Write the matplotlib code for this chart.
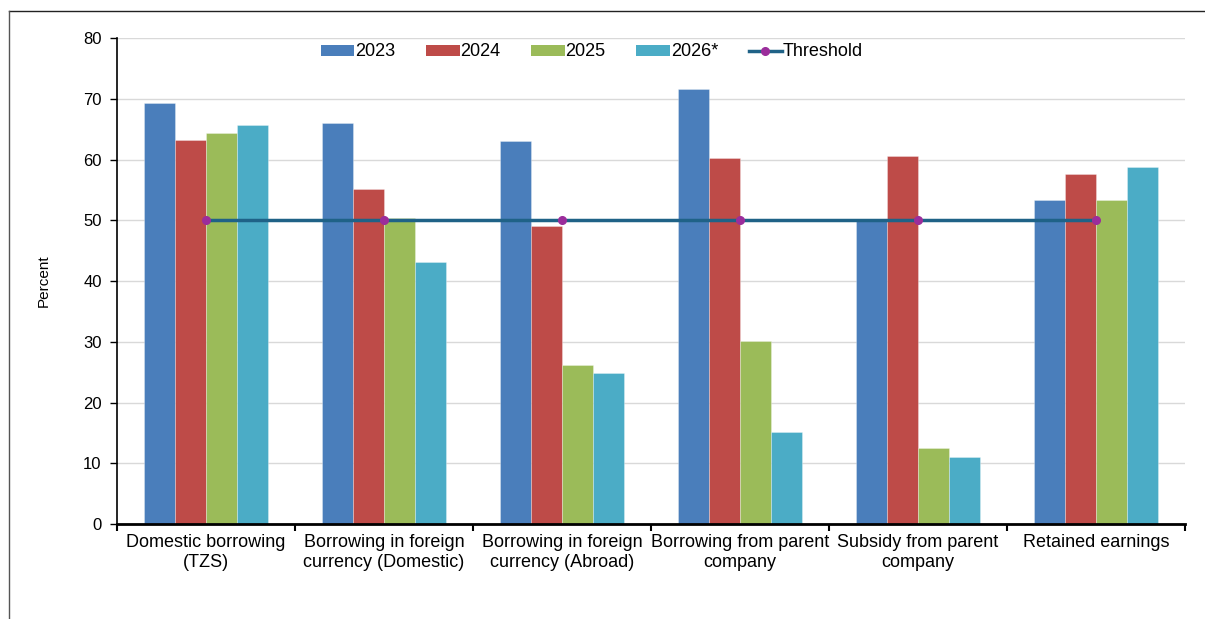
import matplotlib
matplotlib.use("Agg")
import matplotlib.pyplot as plt
from matplotlib.lines import Line2D
from matplotlib.patches import Patch
import numpy as np

plt.rcParams['font.family'] = ['Liberation Sans', 'DejaVu Sans']

categories = ["Domestic borrowing\n(TZS)",
              "Borrowing in foreign\ncurrency (Domestic)",
              "Borrowing in foreign\ncurrency (Abroad)",
              "Borrowing from parent\ncompany",
              "Subsidy from parent\ncompany",
              "Retained earnings"]
years = ["2023", "2024", "2025", "2026*"]
v2023 = [69.3, 66.0, 63.0, 71.6, 50.2, 53.4]
v2024 = [63.2, 55.2, 49.0, 60.2, 60.5, 57.6]
v2025 = [64.4, 50.4, 26.2, 30.2, 12.5, 53.4]
v2026 = [65.7, 43.1, 24.8, 15.2, 11.0, 58.8]
threshold = [50, 50, 50, 50, 50, 50]

colors = ["#4A7EBB", "#BE4B48", "#9BBB59", "#4BACC6"]
series = [v2023, v2024, v2025, v2026]

fig = plt.figure(figsize=(12.05, 6.19), dpi=100)
ax = fig.add_axes([117/1205, 1-524/619, (1185-117)/1205, (524-38)/619])

x = np.arange(len(categories))
bw = 0.173
for i, (vals, c) in enumerate(zip(series, colors)):
    ax.bar(x + (i - 1.5) * bw, vals, width=bw, color=c,
           edgecolor=(1, 1, 1, 0.35), linewidth=0.6, zorder=2)

ax.plot(x, threshold, color="#1F6287", linewidth=2.5, zorder=3,
        marker='o', markersize=5.5, markerfacecolor="#9B2D9B",
        markeredgecolor="#9B2D9B")

ax.set_xlim(-0.5, len(categories) - 0.5)
ax.set_ylim(0, 80)
ax.set_yticks(np.arange(0, 81, 10))
ax.yaxis.grid(True, color="#D9D9D9", linewidth=1)
ax.set_axisbelow(True)
ax.tick_params(axis='y', direction='out', length=5, width=1, labelsize=12,
               pad=6, colors='black')

ax.set_xticks(np.arange(-0.5, len(categories), 1.0))
ax.set_xticklabels([])
ax.tick_params(axis='x', which='major', direction='out', length=5, width=1.5)
ax.set_xticks(x, minor=True)
ax.set_xticklabels(categories, minor=True, fontsize=13, linespacing=1.25)
ax.tick_params(axis='x', which='minor', length=0, pad=7)

for s in ['top', 'right']:
    ax.spines[s].set_visible(False)
ax.spines['left'].set_linewidth(1.2)
ax.spines['bottom'].set_linewidth(2)

ax.set_ylabel("Percent", fontsize=11)
ax.yaxis.set_label_coords(-0.062, 0.5)

handles = [Patch(facecolor=c, edgecolor='none') for c in colors]
handles.append(Line2D([0], [0], color="#1F6287", linewidth=2.5, marker='o',
                      markersize=5.5, markerfacecolor="#9B2D9B",
                      markeredgecolor="#9B2D9B"))
labels = years + ["Threshold"]
fig.legend(handles, labels, loc='center left', bbox_to_anchor=(321/1205, 1-52/619),
           ncol=5, frameon=False, fontsize=13, handlelength=1.85, handleheight=0.55,
           handletextpad=0.05, columnspacing=1.7, borderpad=0, borderaxespad=0)

# outer frame lines (top and left)
fig.add_artist(Line2D([9/1205, 1], [1-11/619, 1-11/619], color='#222222', linewidth=1,
                      transform=fig.transFigure))
fig.add_artist(Line2D([9/1205, 9/1205], [0, 1-11/619], color='#555555', linewidth=1,
                      transform=fig.transFigure))

fig.savefig("out.png", dpi=100)
